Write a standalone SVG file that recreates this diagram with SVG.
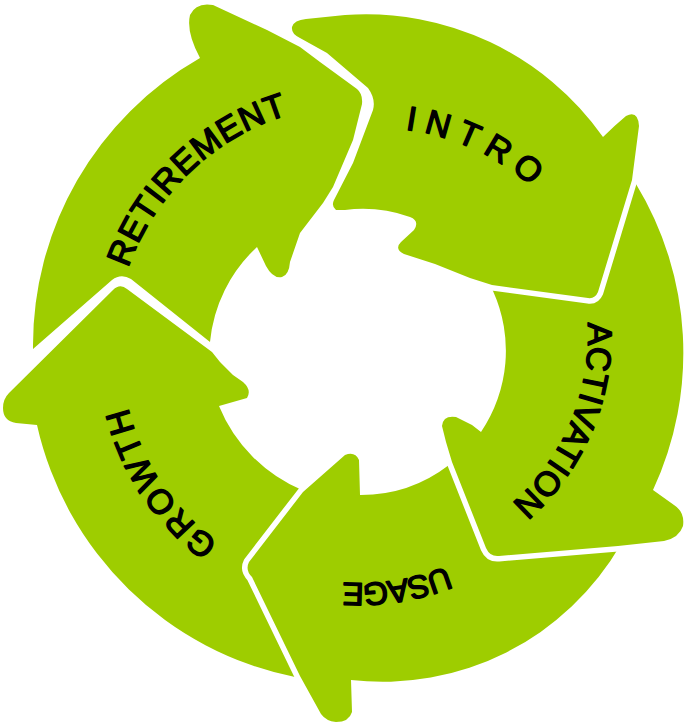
<svg xmlns="http://www.w3.org/2000/svg" width="690" height="725" viewBox="0 0 690 725">
<style>
.seg{fill:#9ecd00;stroke:#ffffff;stroke-width:11;stroke-linejoin:round;paint-order:stroke fill}
.lbl{font-family:"Liberation Sans","DejaVu Sans",Arial,sans-serif;font-size:34px;fill:#000;stroke:#000;stroke-width:1.5;stroke-linejoin:round;dominant-baseline:central}
</style>
<defs>
<path id="tp-ret" d="M 104.1,317.2 A 258 258 0 0 1 339.5,92.8"/>
<path id="tp-intro" d="M 348.0,117.7 A 245 245 0 0 1 573.2,214.3"/>
<path id="tp-act" d="M 591.5,273.5 A 234 234 0 0 1 476.2,542.4"/>
<path id="tp-usage" d="M 496.4,552.3 A 244 244 0 0 1 290.3,583.8"/>
<path id="tp-growth" d="M 255.9,578.4 A 251 251 0 0 1 109.1,358.3"/>
</defs>
<rect width="690" height="725" fill="#ffffff"/>
<g id="growth">
<path class="seg" d="M 113,290 Q 120,283 127,289 L 212,352 L 220,362 L 233,375 L 243,382 Q 252,390 247,398 L 233,402 L 219,406 A 155 155 0 0 0 302,490 L 312,490 L 259,566 L 303,680 L 295,677 A 331 331 0 0 1 37,425 L 16,423 Q 3,421 3,408 Q 3,399 9,393 Z"/>
<text class="lbl" letter-spacing="3.6"><textPath href="#tp-growth" startOffset="52.5">GROWTH</textPath></text>
</g>
<g id="usage">
<path class="seg" d="M 249,562 L 303,492 L 345,455 Q 355,451 359,460 L 360,495 A 145 145 0 0 0 449,465 L 457,464 L 497,549 L 621,544 A 275 275 0 0 1 351,680 L 352,712 Q 349,722 336,722 Q 326,721 321,714 L 300,676 L 252,577 Q 245,570 249,562 Z"/>
<text class="lbl" style="font-size:32px" letter-spacing="-0.5"><textPath href="#tp-usage" startOffset="52.3">USAGE</textPath></text>
</g>
<g id="activation">
<path class="seg" d="M 628,180 L 594,289 L 489,281 L 493,291 A 145 145 0 0 1 481,432 L 472,425 L 456,417 Q 443,415 442,426 L 446,442 L 452,462 L 486,548 Q 490,557 499,556 L 618,546 L 664,541 Q 679,538 683,526 Q 685,512 674,505 L 653,490 A 325 325 0 0 0 636,184 Z"/>
<text class="lbl" letter-spacing="1.5"><textPath href="#tp-act" startOffset="50">ACTIVATION</textPath></text>
</g>
<g id="intro">
<path class="seg" d="M 345,15 A 290 290 0 0 1 603,137 Q 614,126 626,116 Q 638,110 639,126 L 632,180 L 598,292 Q 595,299 588,298 L 492,285 L 470,278 L 435,264 L 404,254 Q 394,249 401,242 L 414,230 Q 420,221 410,217 A 142 142 0 0 0 345,210 L 336,210 Q 331,206 334,200 L 353,163 L 373,110 Q 376,99 368,88 L 327,53 L 300,38 Q 291,34 292,27 Q 294,20 306,19 Z"/>
<text class="lbl" letter-spacing="10.1"><textPath href="#tp-intro" startOffset="59.4">INTRO</textPath></text>
</g>
<g id="retirement">
<path class="seg" d="M 33,349 L 112,280 Q 121,273 131,279 L 210,342 A 148 148 0 0 1 257,247 L 266,266 Q 273,279 282,277 Q 289,275 290,262 L 300,233 L 323,203 L 333,187 L 353,140 L 362,104 Q 363,94 357,89 L 320,62 L 300,47 L 267,30 L 213,5 Q 196,2 190,15 Q 186,32 200,58 A 331 331 0 0 0 33,349 Z"/>
<text class="lbl" letter-spacing="2.1"><textPath href="#tp-ret" startOffset="55.2">RETIREMENT</textPath></text>
</g>
</svg>
